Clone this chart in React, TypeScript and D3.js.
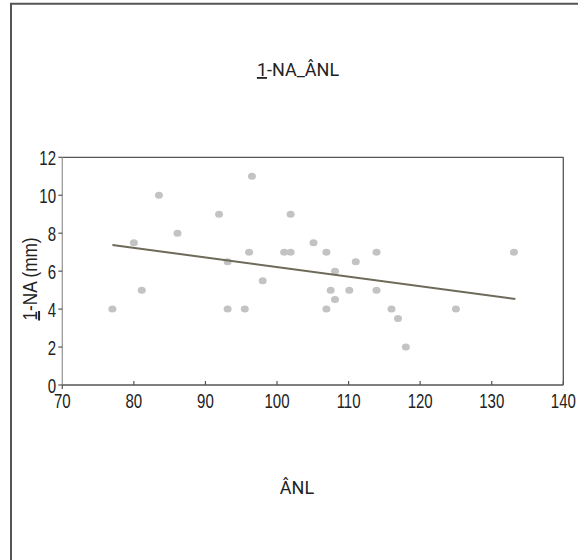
import React from "react";
import * as d3 from "d3";

const xValues = [77, 80, 81.1, 83.5, 86.1, 91.9, 93.1, 93.1, 95.5, 96.1, 96.5, 98, 101, 101.9, 101.9, 105.1, 106.9, 106.9, 107.5, 108.1, 108.1, 110.1, 111, 113.9, 113.9, 116, 116.9, 118, 125, 133.1];
const yValues = [4, 7.5, 5, 10, 8, 9, 6.5, 4, 4, 7, 11, 5.5, 7, 7, 9, 7.5, 7, 4, 5, 6, 4.5, 5, 6.5, 7, 5, 4, 3.5, 2, 4, 7];
const trendX = [77, 133.3];
const trendY = [7.38, 4.53];
const xTicks = [70, 80, 90, 100, 110, 120, 130, 140];
const yTicks = [0, 2, 4, 6, 8, 10, 12];

const W = 578;
const H = 560;
const narrow = "'Liberation Sans', Arial, sans-serif";
const sans = "Roboto, 'Open Sans', sans-serif";
const SX = 0.77;

export default function App() {
  const x = d3.scaleLinear().domain([70, 140]).range([62.3, 563.3]);
  const y = d3.scaleLinear().domain([0, 12]).range([385, 157.3]);
  const line = d3
    .line<number>()
    .x((_, i) => x(trendX[i]))
    .y((d) => y(d));
  const [x0, x1] = x.range();
  const [y0, y1] = y.range();
  return (
    <svg
      width={W}
      height={H}
      style={{ position: "absolute", left: 0, top: 0 }}
    >
      <rect x={0} y={0} width={W} height={H} fill="#fff" />
      <path d={`M11,${H} V3.8 H${W}`} fill="none" stroke="#555" strokeWidth={2} />
      <text x={298} y={76} textAnchor="middle" fontFamily={sans} fontSize={18} fill="#222">
        <tspan textDecoration="underline">1</tspan>-NA_ÂNL
      </text>
      {/* frame */}
      <line x1={x0} x2={x1} y1={y1} y2={y1} stroke="#555" strokeWidth={1.3} />
      <line x1={x1} x2={x1} y1={y1} y2={y0} stroke="#555" strokeWidth={1.3} />
      <line x1={x0} x2={x0} y1={y1} y2={y0} stroke="#999" strokeWidth={1.3} />
      <line x1={x0} x2={x1} y1={y0} y2={y0} stroke="#555" strokeWidth={1.3} />
      {yTicks.map((t) => (
        <g key={"y" + t}>
          <line x1={x0 - 4} x2={x0} y1={y(t)} y2={y(t)} stroke="#555" strokeWidth={1.2} />
          <text
            transform={`translate(56,${y(t)}) scale(${SX},1)`}
            dy="0.42em"
            textAnchor="end"
            fontFamily={narrow}
            fontSize={19.5}
            fill="#222"
          >
            {t}
          </text>
        </g>
      ))}
      {xTicks.map((t) => (
        <g key={"x" + t}>
          <line x1={x(t)} x2={x(t)} y1={y0} y2={y0 + (t === 70 ? 4 : -4)} stroke="#555" strokeWidth={1.2} />
          <text
            transform={`translate(${x(t)},407.7) scale(${SX},1)`}
            textAnchor="middle"
            fontFamily={narrow}
            fontSize={19.5}
            fill="#222"
          >
            {t}
          </text>
        </g>
      ))}
      <text
        transform={`translate(37,279) rotate(-90) scale(0.86,1)`}
        textAnchor="middle"
        fontFamily={narrow}
        fontSize={20}
        fill="#222"
      >
        <tspan textDecoration="underline">1</tspan>-NA (mm)
      </text>
      {xValues.map((v, i) => (
        <ellipse key={i} cx={x(v)} cy={y(yValues[i])} rx={4} ry={3.5} fill="#c3c3c3" />
      ))}
      <path d={line(trendY) || ""} fill="none" stroke="#6e6a5a" strokeWidth={2} />
      <text x={297} y={494} textAnchor="middle" fontFamily={sans} fontSize={18} fill="#222">
        ÂNL
      </text>
    </svg>
  );
}
